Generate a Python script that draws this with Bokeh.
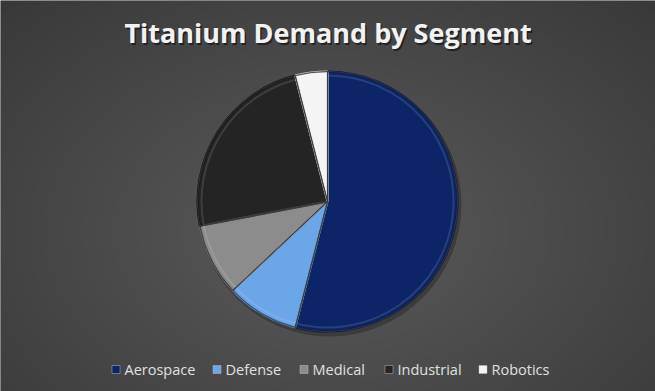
import numpy as np
from bokeh.plotting import figure
from bokeh.models import ColumnDataSource, Range1d
from bokeh.core.properties import value
from bokeh.embed import file_html
from bokeh.resources import INLINE

# ---- data ----
categories = ["Aerospace", "Defense", "Medical", "Industrial", "Robotics"]
shares = [54, 9, 9, 24, 4]
colors = ["#0b2566", "#6aa6e8", "#8c8c8c", "#242424", "#f4f4f4"]
edge_colors = ["#061a4c", "#4f86c6", "#6a6a6a", "#111111", "#c8c8c8"]
title_text = "Titanium Demand by Segment"

W, H = 655, 391
p = figure(width=W, height=H, x_range=Range1d(0, W), y_range=Range1d(0, H),
           output_backend="svg", toolbar_location=None, min_border=0)
p.axis.visible = False
p.grid.visible = False
p.outline_line_color = None
p.background_fill_color = "#2a2a2a"
p.border_fill_color = "#2a2a2a"

# radial background gradient (layered translucent ellipses)
n = 40
for i in range(n):
    f = 1 - i / n
    p.ellipse(x=330, y=160, width=1100 * f, height=760 * f,
              fill_color="#6a6a6a", fill_alpha=0.035, line_color=None)

# pie
cx, cy, r = 327, H - 201, 130
vals = np.array(shares, dtype=float)
frac = vals / vals.sum()
cum = np.concatenate([[0], np.cumsum(frac)])
start = np.pi / 2 - 2 * np.pi * cum[:-1]
end = np.pi / 2 - 2 * np.pi * cum[1:]
src = ColumnDataSource(dict(start=start, end=end, color=colors, edge=edge_colors, cat=categories))

# shadow
p.circle(x=cx + 2, y=cy - 3, radius=r + 2, fill_color="#000000", fill_alpha=0.25, line_color=None)
p.wedge(x=cx, y=cy, radius=r, start_angle="start", end_angle="end", direction="clock",
        fill_color="color", line_color="edge", line_width=2, source=src)
# bevel highlight
p.wedge(x=cx, y=cy, radius=r - 4, start_angle="start", end_angle="end", direction="clock",
        fill_color=None, line_color="#ffffff", line_alpha=0.12, line_width=2, source=src)
p.wedge(x=cx, y=cy, radius=r, start_angle="start", end_angle="end", direction="clock",
        fill_color=None, line_color="#3a3a3a", line_alpha=0.9, line_width=1, source=src)

# title
p.text(x=[W / 2 + 1.5], y=[H - 32 - 2], text=[title_text], text_align="center", text_baseline="middle",
       text_font=value("Open Sans"), text_font_style="bold", text_font_size="27px",
       text_color="#000000", text_alpha=0.5)
p.text(x=[W / 2], y=[H - 32], text=[title_text], text_align="center", text_baseline="middle",
       text_font=value("Open Sans"), text_font_style="bold", text_font_size="27px",
       text_color="#f2f2f2")

# legend
leg_x = [112, 213, 300, 385, 479]
leg_y = H - 369
p.rect(x=[x + 3.5 for x in leg_x], y=[leg_y] * 5, width=8, height=8,
       fill_color=colors, line_color="#bbbbbb", line_width=0.5)
p.text(x=[x + 12 for x in leg_x], y=[leg_y] * 5, text=categories, text_baseline="middle",
       text_font=value("Open Sans"), text_font_size="14.5px", text_color="#e0e0e0")

open("out.html", "w").write(file_html(p, INLINE))
